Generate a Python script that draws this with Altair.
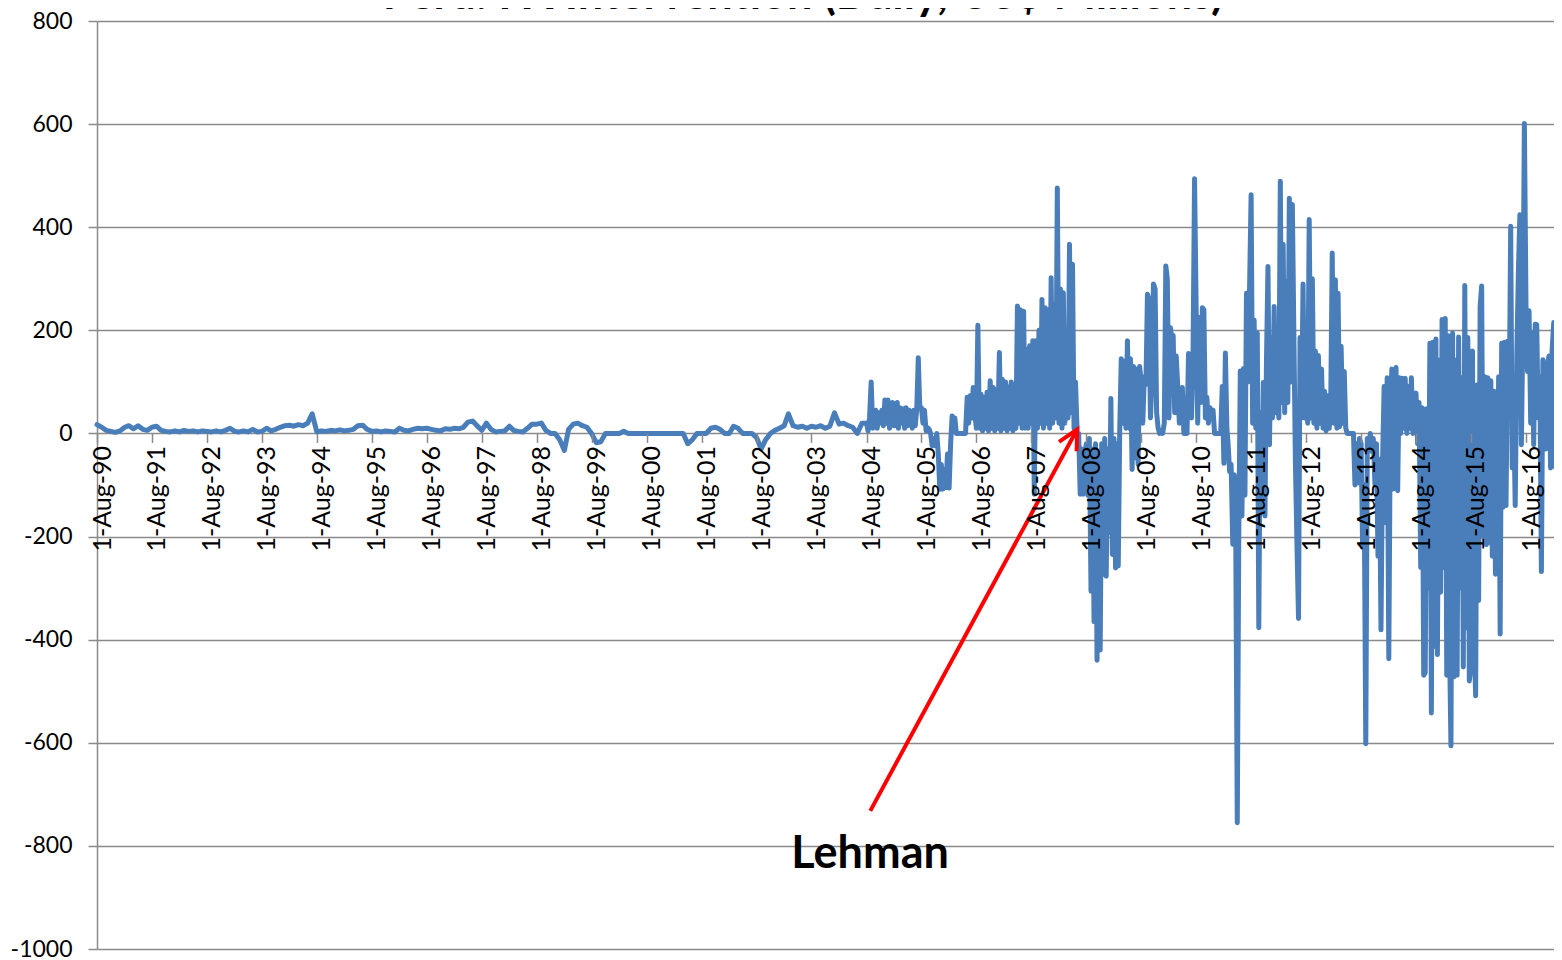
import altair as alt
import pandas as pd

# ------------------------------------------------------------------
# Data (US$ millions). Early period read monthly, later period read
# on a 1st/11th/21st grid. Rows run Aug..Jul.
# ------------------------------------------------------------------
early_start = "1990-08-01"
fx_1990_2004_monthly = [
    17, 12, 6, 4, 2, 5, 12, 15, 9, 15, 8, 6,          # Aug-90 .. Jul-91
    12, 14, 6, 4, 3, 5, 3, 6, 4, 5, 3, 5,             # 91-92
    4, 3, 5, 3, 6, 10, 4, 3, 5, 3, 8, 3,              # 92-93
    4, 10, 5, 8, 12, 15, 16, 14, 17, 15, 20, 38,      # 93-94
    3, 5, 4, 6, 5, 7, 5, 6, 8, 15, 16, 8,             # 94-95
    4, 5, 3, 5, 4, 3, 10, 6, 5, 8, 10, 9,             # 95-96
    10, 8, 6, 5, 9, 8, 10, 9, 12, 22, 24, 15,         # 96-97
    6, 20, 8, 3, 4, 5, 14, 6, 4, 3, 10, 18,           # 97-98
    18, 20, 6, 0, 0, -12, -33, 8, 18, 20, 15, 12,     # 98-99
    0, -18, -16, 0, 0, 0, 0, 4, 0, 0, 0, 0,           # 99-00
    0, 0, 0, 0, 0, 0, 0, 0, 0, -20, -12, 0,           # 00-01
    0, 0, 10, 12, 8, 0, 0, 14, 10, 0, 0, 0,           # 01-02
    -8, -30, -12, 0, 6, 10, 15, 38, 15, 12, 14, 10,   # 02-03
    14, 12, 15, 10, 14, 40, 18, 20, 15, 12, 0, 20,    # 03-04
]

# 10-day grid (1st, 11th, 21st of each month), Aug..Jul blocks
fx_2004_05 = [20, 5, 30, 100, 10, 30, 45, 10, 40, 20, 45, 15, 65, 20, 65, 10, 30, 60,
              15, 55, 60, 10, 50, 20, 48, 10, 50, 15, 45, 40, 10, 45, 15, 48, 147, 50]
fx_2005_06 = [50, 20, 45, 5, 11, 8, 0, -24, -10, -24, 0, -40, -108, -60, -108, -70, -105, -40,
              -106, -20, 34, 10, 30, 0, 0, 0, 0, 0, 0, 0, 70, 20, 73, 30, 89, 40]
fx_2006_07 = [10, 210, 10, 76, 5, 70, 10, 80, 5, 102, 10, 89, 5, 85, 10, 157, 5, 105,
              10, 100, 5, 90, 10, 100, 5, 95, 10, 247, 20, 240, 10, 237, 10, 163, 10, 170]
fx_2007_08 = [20, 180, -118, 180, 10, 200, 20, 260, 10, 244, 20, 240, 10, 302, 20, 250, 30, 476,
              20, 280, 10, 273, 20, 200, 30, 367, 40, 328, 10, 100, 0, 0, -118, -30, -118, -40]
fx_2008_09 = [-20, -120, -10, -306, -30, -365, -20, -440, -40, -420, -20, -273, -10, -277, -30, -192, 68, -235,
              -10, -261, -20, -257, 10, 145, 20, 140, 10, 180, 10, 145, -70, 130, -47, 125, -60, 130]
fx_2009_10 = [100, 20, 110, 95, 270, 260, 30, 100, 290, 280, 40, 10, 0, 5, 0, 20, 325, 300,
              30, 205, 180, 190, 40, 150, 89, 20, 60, 89, 0, 0, 0, 155, 140, 30, 152, 494]
fx_2010_11 = [237, 20, 225, 60, 244, 240, 30, 70, 20, 50, 30, 45, 0, 0, 0, 0, 0, 91,
              -58, 156, 10, -20, -74, -60, -215, -80, -212, -755, -200, 121, -160, 126, -120, 272, 100, 272]
fx_2011_12 = [463, 20, 220, 10, 195, -377, 40, -150, 99, -160, 141, 324, -22, 186, 30, 246, 40, 200,
              30, 489, 60, 367, 40, 294, 60, 456, 100, 444, 195, -50, -221, -359, 186, 30, 290, 30]
fx_2012_13 = [180, 20, 415, 30, 300, 20, 160, 10, 151, 20, 125, 10, 82, 5, 73, 10, 60, 350,
              20, 298, 10, 272, 13, 169, 20, 120, 10, 0, 0, 0, 0, 0, -100, -20, -96, -10]
fx_2013_14 = [-20, -221, -100, -602, -10, -30, 0, -35, -10, -100, -20, -238, -50, -381, -60, 91, -173, 108,
              -437, 20, 125, -108, 103, 128, -111, 108, 0, 107, 10, 107, 0, 91, 10, 108, 0, 72]
fx_2014_15 = [78, -20, 60, -260, 50, -469, -464, 48, -300, 175, -542, 177, -413, 183, -429, 142, -308, 221,
              -260, 223, -469, 190, -400, -606, 195, -472, 142, -469, 187, -300, 108, -453, 287, -377, 186, -480]
fx_2015_16 = [-453, 160, -380, -509, 94, -324, 247, 286, -200, 110, -216, 108, -212, 102, -238, 82, -273, -155,
              110, -389, 175, -143, 177, -140, 179, 46, 402, -67, 46, -140, 156, 311, 424, -22, 200, 601]
fx_2016_17 = [239, 120, 238, 20, 195, -22, 212, 211, 30, 110, -268, 143, 110, -30, 134, 150, -67, 160,
              215, -65, 126, -20, 91, 204]

tick_years = list(range(1990, 2017))          # "1-Aug-YY" labels
y_ticks = [-1000, -800, -600, -400, -200, 0, 200, 400, 600, 800]

title_text = "Peru: FX Intervention (Daily, US$ Millions)"
annotation_label = "Lehman"
annotation_text_at = ("2004-08-25", -843)
arrow_tail = ("2004-08-26", -732)
arrow_head = ("2008-06-01", 8)

# ------------------------------------------------------------------
# Build table
# ------------------------------------------------------------------
early_dates = [d.strftime("%Y-%m-%d") for d in
               pd.date_range(early_start, periods=len(fx_1990_2004_monthly), freq="MS")]
late_values = (fx_2004_05 + fx_2005_06 + fx_2006_07 + fx_2007_08 + fx_2008_09 + fx_2009_10 +
               fx_2010_11 + fx_2011_12 + fx_2012_13 + fx_2013_14 + fx_2014_15 + fx_2015_16 + fx_2016_17)
late_dates = []
for mstart in pd.date_range("2004-08-01", "2017-03-01", freq="MS"):
    for d in (1, 11, 21):
        late_dates.append(f"{mstart.year}-{mstart.month:02d}-{d:02d}")
assert len(late_dates) == len(late_values), (len(late_dates), len(late_values))

series = pd.DataFrame({"date": early_dates + late_dates,
                       "value": fx_1990_2004_monthly + late_values})

GRID = "#8A8A8A"
FONT = "Lato"

xscale = alt.Scale(type="utc", domain=[alt.DateTime(year=1990, month=8, date=1, utc=True),
                                       alt.DateTime(year=2017, month=3, date=28, utc=True)])
yscale = alt.Scale(domain=[-1000, 800], nice=False, zero=False)

xaxis = alt.Axis(values=[alt.DateTime(year=y, month=8, date=1, utc=True) for y in tick_years],
                 format="%-d-%b-%y", labelAngle=-90, offset=-515.6, tickSize=9, tickColor=GRID,
                 tickWidth=1.5, domain=False, grid=False, labelFont=FONT, labelFontSize=25,
                 labelColor="black", labelPadding=3, labelOffset=5, labelOverlap=False,
                 labelFlush=False, title=None, zindex=1)
yaxis = alt.Axis(values=y_ticks, labelExpr="datum.value + ''", tickSize=9, tickColor=GRID,
                 tickWidth=1.5, domainColor=GRID, domainWidth=1.5, gridColor=GRID, gridWidth=1.5,
                 labelFont=FONT, labelFontSize=23, labelColor="black", labelPadding=16, title=None)


def xy():
    return dict(x=alt.X("date:T", scale=xscale, axis=xaxis),
                y=alt.Y("value:Q", scale=yscale, axis=yaxis))


line = alt.Chart(series).mark_line(color="#4A7EBB", strokeWidth=5, strokeJoin="round",
                                   strokeCap="round").encode(**xy())

arrow_df = pd.DataFrame({"date": [arrow_tail[0]], "value": [arrow_tail[1]],
                         "date2": [arrow_head[0]], "value2": [arrow_head[1]]})
shaft = alt.Chart(arrow_df).mark_rule(color="#FF0000", strokeWidth=4).encode(
    x2="date2:T", y2="value2:Q", **xy())
head_df = pd.DataFrame({"date": [arrow_head[0]], "value": [arrow_head[1]]})
head = alt.Chart(head_df).mark_point(
    shape="M -0.454 0.891 L 0 0 L 0.454 0.891", filled=False, stroke="#FF0000",
    strokeWidth=4, size=1936, angle=28.5, opacity=1, strokeJoin="miter",
).encode(**xy())

label_df = pd.DataFrame({"date": [annotation_text_at[0]], "value": [annotation_text_at[1]],
                         "label": [annotation_label]})
label = alt.Chart(label_df).mark_text(font=FONT, fontSize=45, fontWeight="bold", align="center",
                                      baseline="alphabetic", color="black").encode(
    text="label:N", **xy())

title_df = pd.DataFrame({"t": [title_text]})
title = alt.Chart(title_df).mark_text(font=FONT, fontSize=45, fontWeight="bold", align="center",
                                      baseline="alphabetic", color="black").encode(
    x=alt.value(706), y=alt.value(-12.5), text="t:N",
)

chart = alt.layer(line, shaft, head, label, title).properties(
    width=1465, height=928,
    padding={"left": 89, "top": 13, "right": -8, "bottom": 8},
    autosize="none",
).configure_view(stroke=None)

chart.save("out.html", embed_options={"renderer": "svg", "actions": False})
